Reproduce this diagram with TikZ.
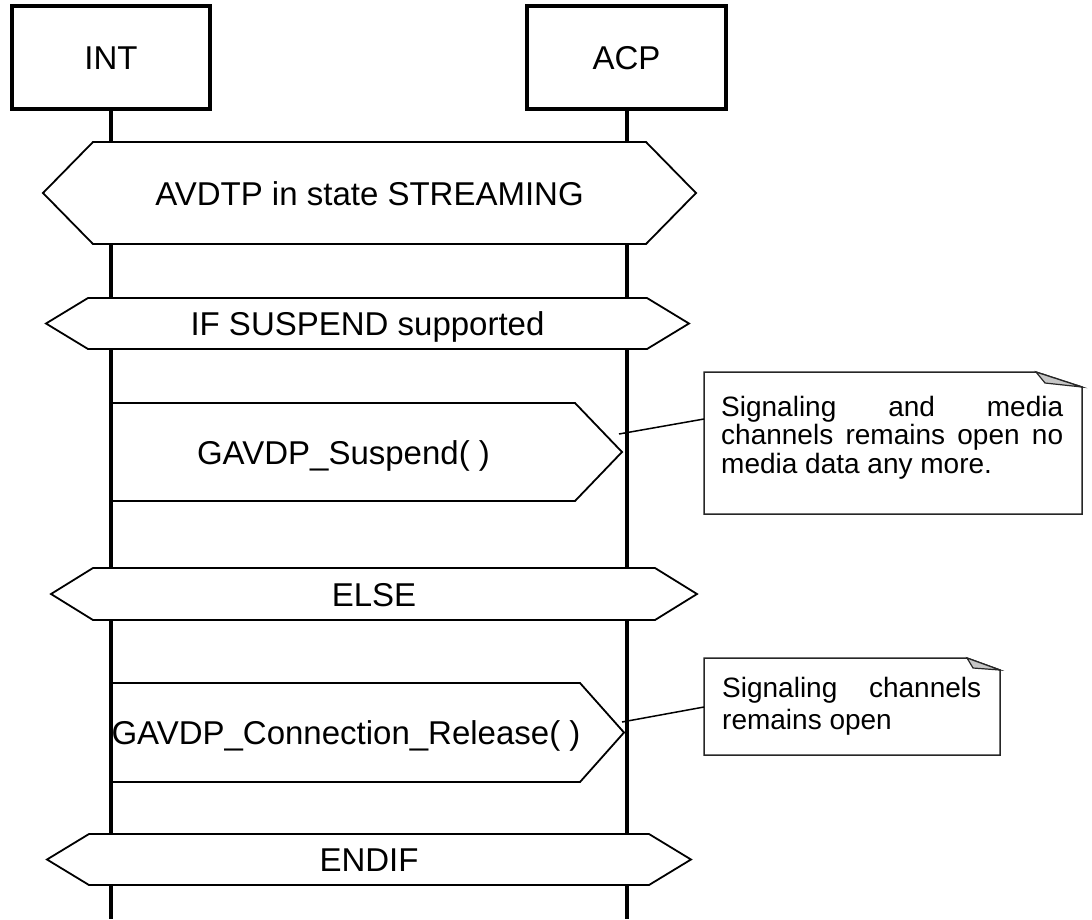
\documentclass[tikz,border=0pt]{standalone}
\usepackage{fontspec}
\setmainfont{Liberation Sans}
\newcommand\lblfont{\fontsize{33}{38}\selectfont}
\newcommand\notefont{\fontsize{28}{30}\selectfont}
\begin{document}
\begin{tikzpicture}[x=1pt,y=-1pt,
  lifebox/.style={draw, line width=4pt, minimum width=198pt, minimum height=103pt, inner sep=0pt, font=\lblfont},
  lifeline/.style={line width=4pt},
  hexa/.style={draw, line width=1.8pt, fill=white, line join=miter},
  msg/.style={draw, line width=1.8pt, line join=miter},
  lbltext/.style={font=\lblfont, inner sep=0pt, anchor=base},
  notebox/.style={draw=black!85, line width=1.5pt, fill=white},
  foldstyle/.style={draw=black!85, line width=1.2pt, fill=black!22},
  notetext/.style={font=\notefont, inner sep=0pt, anchor=base west},
  conn/.style={line width=1.5pt}]
\useasboundingbox (0,0) rectangle (1092,919);

% lifeline heads
\node[lifebox] (int) at (111,57) {};
\node[lbltext] (intlbl) at (111,69) {INT};
\node[lifebox, minimum width=199pt] (acp) at (626.5,57) {};
\node[lbltext] (acplbl) at (626.5,69) {ACP};

% lifelines
\coordinate (intend) at (111,919);
\coordinate (acpend) at (626.5,919);
\draw[lifeline] (int.south) -- (intend);
\draw[lifeline] (acp.south) -- (acpend);

% AVDTP in state STREAMING
\draw[hexa] (43,193) -- (93,142) -- (646,142) -- (696,193) -- (646,244) -- (93,244) -- cycle;
\node[lbltext] (avdtp) at (369.5,205) {AVDTP in state STREAMING};

% IF SUSPEND supported
\draw[hexa] (46,323.5) -- (88,298) -- (647,298) -- (689,323.5) -- (647,349) -- (88,349) -- cycle;
\node[lbltext] (ifsus) at (367.5,335.5) {IF SUSPEND supported};

% GAVDP_Suspend( )
\draw[msg] (112,403) -- (575,403) -- (622,452) -- (575,501) -- (112,501);
\node[lbltext] (suspend) at (343.5,464) {GAVDP\_Suspend( )};

% note 1
\draw[notebox] (704,372) -- (1036,372) -- (1082,387) -- (1082,514) -- (704,514) -- cycle;
\draw[foldstyle] (1036,372) -- (1082,387) -- (1045,383) -- cycle;
\node[notetext] (n1a) at (721,416) {\makebox[342pt][s]{Signaling and media}};
\node[notetext] (n1b) at (721,444.5) {\makebox[342pt][s]{channels remains open no}};
\node[notetext] (n1c) at (721,473) {media data any more.};
\coordinate (c1s) at (619,434);
\coordinate (c1e) at (704,419);
\draw[conn] (c1s) -- (c1e);

% ELSE
\draw[hexa] (51,594) -- (93,568) -- (655,568) -- (697,594) -- (655,620) -- (93,620) -- cycle;
\node[lbltext] (else) at (374,606) {ELSE};

% GAVDP_Connection_Release( )
\draw[msg] (112,683) -- (580,683) -- (624,732.5) -- (580,782) -- (112,782);
\node[lbltext] (release) at (346,744.5) {GAVDP\_Connection\_Release( )};

% note 2
\draw[notebox] (704,658) -- (967,658) -- (1000,670) -- (1000,755) -- (704,755) -- cycle;
\draw[foldstyle] (967,658) -- (1000,670) -- (973,668) -- cycle;
\node[notetext] (n2a) at (722,697) {\makebox[259pt][s]{Signaling channels}};
\node[notetext] (n2b) at (722,729) {remains open};
\coordinate (c2s) at (622,722);
\coordinate (c2e) at (704,707);
\draw[conn] (c2s) -- (c2e);

% ENDIF
\draw[hexa] (47,859.5) -- (89,834) -- (649,834) -- (691,859.5) -- (649,885) -- (89,885) -- cycle;
\node[lbltext] (endif) at (369,871.5) {ENDIF};
\end{tikzpicture}
\end{document}
